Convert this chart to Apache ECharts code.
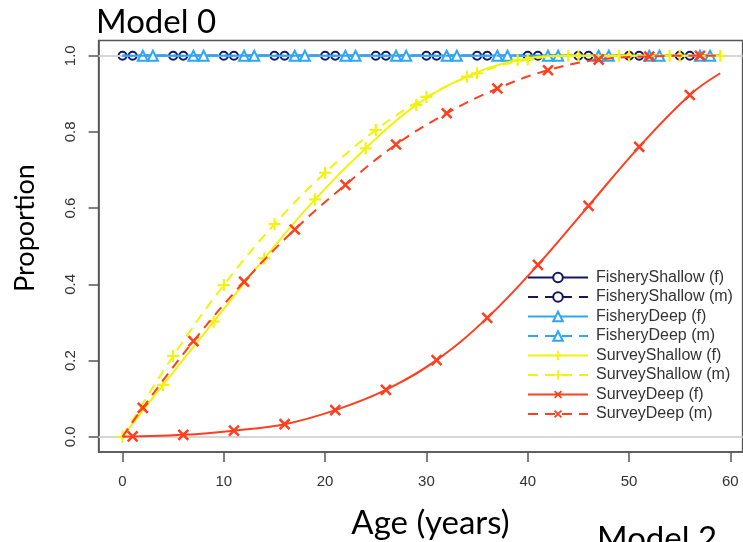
<!DOCTYPE html>
<html>
<head>
<meta charset="utf-8">
<script src="https://cdn.jsdelivr.net/npm/echarts@6/dist/echarts.min.js"></script>
<style>
html, body { margin: 0; padding: 0; background: #fff; }
#chart { width: 743px; height: 542px; }
</style>
</head>
<body>
<div id="chart"></div>
<script>
// Age-based selectivity by fleet and sex (proportion selected at age).
// Each curve is listed at the ages read along it; a marker is drawn every
// fifth age, staggered by one year per curve as in the legend order.

const X_TICKS = [0, 10, 20, 30, 40, 50, 60];
const Y_TICKS = [0, 0.2, 0.4, 0.6, 0.8, 1.0];

const SERIES_NAMES = [
  'FisheryShallow (f)', 'FisheryShallow (m)',
  'FisheryDeep (f)', 'FisheryDeep (m)',
  'SurveyShallow (f)', 'SurveyShallow (m)',
  'SurveyDeep (f)', 'SurveyDeep (m)'
];

const AGES_FISHERY_SHALLOW_F = [0, 5, 10, 15, 20, 25, 30, 35, 40, 45, 50, 55, 59];
const SEL_FISHERY_SHALLOW_F  = [1, 1, 1, 1, 1, 1, 1, 1, 1, 1, 1, 1, 1];

const AGES_FISHERY_SHALLOW_M = [0, 1, 6, 11, 16, 21, 26, 31, 36, 41, 46, 51, 56, 59];
const SEL_FISHERY_SHALLOW_M  = [1, 1, 1, 1, 1, 1, 1, 1, 1, 1, 1, 1, 1, 1];

const AGES_FISHERY_DEEP_F = [0, 2, 7, 12, 17, 22, 27, 32, 37, 42, 47, 52, 57, 59];
const SEL_FISHERY_DEEP_F  = [1, 1, 1, 1, 1, 1, 1, 1, 1, 1, 1, 1, 1, 1];

const AGES_FISHERY_DEEP_M = [0, 3, 8, 13, 18, 23, 28, 33, 38, 43, 48, 53, 58, 59];
const SEL_FISHERY_DEEP_M  = [1, 1, 1, 1, 1, 1, 1, 1, 1, 1, 1, 1, 1, 1];

const AGES_SURVEY_SHALLOW_F = [0, 4, 9, 14, 19, 24, 29, 34, 39, 44, 49, 54, 59];
const SEL_SURVEY_SHALLOW_F  = [0, 0.136, 0.302, 0.468, 0.623, 0.757, 0.871, 0.945, 0.988, 1, 1, 1, 1];

const AGES_SURVEY_SHALLOW_M = [0, 5, 10, 15, 20, 25, 30, 35, 40, 45, 50, 55, 59];
const SEL_SURVEY_SHALLOW_M  = [0, 0.212, 0.398, 0.558, 0.693, 0.805, 0.892, 0.954, 0.99, 1, 1, 1, 1];

const AGES_SURVEY_DEEP_F = [0, 1, 6, 11, 16, 21, 26, 31, 36, 41, 46, 51, 56, 59];
const SEL_SURVEY_DEEP_F  = [0, 0.001, 0.005, 0.016, 0.033, 0.07, 0.123, 0.201, 0.312, 0.451, 0.606, 0.761, 0.897, 0.954];

const AGES_SURVEY_DEEP_M = [0, 2, 7, 12, 17, 22, 27, 32, 37, 42, 47, 52, 57, 59];
const SEL_SURVEY_DEEP_M  = [0, 0.076, 0.251, 0.407, 0.544, 0.661, 0.767, 0.849, 0.914, 0.962, 0.99, 0.998, 1, 1];

const NAVY = '#17175e';
const SKY = '#2ea6f8';
const YELLOW = '#f2f20a';
const RED = '#ff3f1f';

const PLUS = 'path://M0,4.1H10V5.9H0Z M4.1,0H5.9V10H4.1Z';

const LAYERS = [
  { ages: AGES_FISHERY_SHALLOW_F, vals: SEL_FISHERY_SHALLOW_F, color: NAVY, dashed: false, symbol: 'emptyCircle', size: 8, rotate: 0 },
  { ages: AGES_FISHERY_SHALLOW_M, vals: SEL_FISHERY_SHALLOW_M, color: NAVY, dashed: true, symbol: 'emptyCircle', size: 8, rotate: 0 },
  { ages: AGES_FISHERY_DEEP_F, vals: SEL_FISHERY_DEEP_F, color: SKY, dashed: false, symbol: 'emptyTriangle', size: 10, rotate: 0 },
  { ages: AGES_FISHERY_DEEP_M, vals: SEL_FISHERY_DEEP_M, color: SKY, dashed: true, symbol: 'emptyTriangle', size: 10, rotate: 0 },
  { ages: AGES_SURVEY_SHALLOW_F, vals: SEL_SURVEY_SHALLOW_F, color: YELLOW, dashed: false, symbol: PLUS, size: 12, rotate: 0 },
  { ages: AGES_SURVEY_SHALLOW_M, vals: SEL_SURVEY_SHALLOW_M, color: YELLOW, dashed: true, symbol: PLUS, size: 12, rotate: 0 },
  { ages: AGES_SURVEY_DEEP_F, vals: SEL_SURVEY_DEEP_F, color: RED, dashed: false, symbol: PLUS, size: 14, rotate: 45 },
  { ages: AGES_SURVEY_DEEP_M, vals: SEL_SURVEY_DEEP_M, color: RED, dashed: true, symbol: PLUS, size: 14, rotate: 45 }
];

const curveSeries = LAYERS.map(function (layer, k) {
  const markOffset = k % 5;
  return {
    name: SERIES_NAMES[k],
    type: 'line',
    z: 3 + k,
    smooth: 0.4,
    showAllSymbol: true,
    symbol: layer.symbol,
    symbolSize: layer.size,
    symbolRotate: layer.rotate,
    lineStyle: { color: layer.color, width: 2, type: layer.dashed ? [10, 7] : 'solid' },
    itemStyle: { color: layer.color, borderWidth: 2 },
    emphasis: { disabled: true },
    data: layer.ages.map(function (age, i) {
      const item = { value: [age, layer.vals[i]] };
      if (age % 5 !== markOffset) item.symbol = 'none';
      return item;
    })
  };
});

// Reference lines at 0 and 1, drawn beneath the curves
const guideSeries = {
  type: 'line',
  z: 1,
  data: [],
  silent: true,
  markLine: {
    silent: true,
    symbol: 'none',
    label: { show: false },
    lineStyle: { color: '#d6d6d6', width: 2, type: 'solid' },
    emphasis: { disabled: true },
    data: [{ yAxis: 0 }, { yAxis: 1 }]
  }
};

// Grid lines are kept but fully transparent (the frame carries the look)
const hiddenSplit = { show: true, lineStyle: { color: 'rgba(0,0,0,0)', width: 0 } };

const chart = echarts.init(document.getElementById('chart'));

chart.setOption({
  animation: false,
  backgroundColor: '#fff',
  grid: {
    left: 98.6, top: 40.5, width: 644, height: 411.5,
    outerBoundsMode: 'none',
    show: true, borderColor: '#555', borderWidth: 1.5
  },
  xAxis: {
    type: 'value', min: -2.36, max: 61.21,
    axisLine: { show: true, onZero: false, lineStyle: { color: '#555', width: 1.5 } },
    splitLine: hiddenSplit,
    axisTick: { show: true, customValues: X_TICKS, length: 10, lineStyle: { color: '#555', width: 1.5 } },
    axisLabel: {
      customValues: X_TICKS, margin: 22, color: '#333',
      fontFamily: 'Liberation Sans', fontSize: 15,
      formatter: function (v) { return String(v); }
    }
  },
  yAxis: {
    type: 'value', min: -0.04, max: 1.04,
    axisLine: { show: true, onZero: false, lineStyle: { color: '#555', width: 1.5 } },
    splitLine: hiddenSplit,
    axisTick: { show: true, customValues: Y_TICKS, length: 10, lineStyle: { color: '#555', width: 1.5 } },
    axisLabel: {
      customValues: Y_TICKS, margin: 20, rotate: 90, color: '#333',
      fontFamily: 'Liberation Sans', fontSize: 15,
      formatter: function (v) { return v.toFixed(1); }
    }
  },
  legend: {
    orient: 'vertical',
    left: 522, top: 264.5,
    itemWidth: 60, itemHeight: 12, itemGap: 3.5,
    selectedMode: false,
    data: SERIES_NAMES,
    textStyle: { color: '#333', fontFamily: 'Liberation Sans', fontSize: 16, padding: [0, 0, 0, 3] }
  },
  graphic: [
    { type: 'text', x: 96, y: 22, style: { text: 'Model 0', font: '33px Lato', fill: '#000', verticalAlign: 'middle' } },
    { type: 'text', x: 25, y: 228, rotation: Math.PI / 2, style: { text: 'Proportion', font: '27px Lato', fill: '#000', align: 'center', verticalAlign: 'middle' } },
    { type: 'text', x: 430.5, y: 523.5, style: { text: 'Age (years)', font: '33px Lato', fill: '#000', align: 'center', verticalAlign: 'middle' } },
    { type: 'text', x: 597, y: 539, style: { text: 'Model 2', font: '33px Lato', fill: '#000', verticalAlign: 'middle' } }
  ],
  series: [guideSeries].concat(curveSeries)
});
</script>
</body>
</html>
